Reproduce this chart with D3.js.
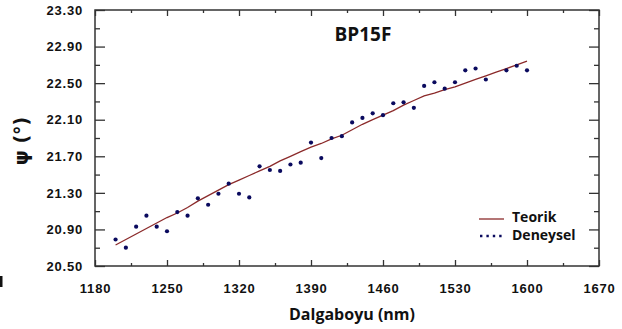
<!DOCTYPE html>
<html><head><meta charset="utf-8">
<script src="https://cdn.jsdelivr.net/npm/d3@7/dist/d3.min.js"></script>
<style>
body{margin:0;background:#fff;}
svg{display:block;}
.tick text{font-family:"Liberation Sans",Arial,sans-serif;font-weight:bold;font-size:13px;letter-spacing:0.8px;fill:#111;}
</style></head>
<body><svg id="c" width="622" height="329"></svg>
<script>
const wavelengthsDeneysel = [1200,1210,1220,1230,1240,1250,1260,1270,1280,1290,1300,1310,1320,1330,1340,1350,1360,1370,1380,1390,1400,1410,1420,1430,1440,1450,1460,1470,1480,1490,1500,1510,1520,1530,1540,1550,1560,1580,1590,1600];
const psiDeneysel = [20.79,20.70,20.93,21.05,20.93,20.88,21.09,21.05,21.24,21.17,21.29,21.40,21.29,21.25,21.59,21.55,21.54,21.61,21.63,21.85,21.68,21.90,21.92,22.07,22.12,22.17,22.15,22.28,22.29,22.23,22.47,22.51,22.44,22.51,22.64,22.66,22.54,22.64,22.69,22.64];
const wavelengthsTeorik = [1200,1210,1220,1230,1240,1250,1260,1270,1280,1290,1300,1310,1320,1330,1340,1350,1360,1370,1380,1390,1400,1410,1420,1430,1440,1450,1460,1470,1480,1490,1500,1510,1520,1530,1540,1550,1560,1570,1580,1590,1600];
const psiTeorik = [20.73,20.79,20.85,20.91,20.97,21.03,21.08,21.14,21.21,21.27,21.33,21.39,21.44,21.49,21.54,21.59,21.65,21.70,21.75,21.80,21.84,21.89,21.93,21.99,22.05,22.10,22.15,22.20,22.26,22.31,22.36,22.39,22.43,22.46,22.50,22.54,22.58,22.62,22.66,22.70,22.74];
const xTickLabels = [1180,1250,1320,1390,1460,1530,1600,1670];
const xMinorTicks = [1215,1285,1355,1425,1495,1565,1635];
const yTickLabels = [20.5,20.9,21.3,21.7,22.1,22.5,22.9,23.3];
const yMinorTicks = [20.7,21.1,21.5,21.9,22.3,22.7,23.1];
const title = "BP15F";
const xTitle = "Dalgaboyu (nm)";
const yTitle = "\u03C8 (\u00B0)";
const seriesNames = ["Teorik","Deneysel"];

const svg = d3.select("#c");
const L=95,R=599,T=10,B=266;
const x = d3.scaleLinear().domain([1180,1670]).range([L,R]);
const y = d3.scaleLinear().domain([20.5,23.3]).range([B,T]);
const axisColor="#333";

function styleAxis(g){g.select(".domain").remove();g.selectAll(".tick line").attr("stroke",axisColor).attr("stroke-width",1.3);}

svg.append("g").attr("transform",`translate(${L},0)`).call(d3.axisLeft(y).tickValues(yTickLabels).tickSize(-10).tickPadding(12).tickFormat(d3.format(".2f"))).call(styleAxis);
svg.append("g").attr("transform",`translate(${L},0)`).call(d3.axisLeft(y).tickValues(yMinorTicks).tickSize(-5).tickFormat("")).call(styleAxis);
svg.append("g").attr("transform",`translate(${R},0)`).call(d3.axisRight(y).tickValues(yTickLabels).tickSize(-10).tickFormat("")).call(styleAxis);
svg.append("g").attr("transform",`translate(${R},0)`).call(d3.axisRight(y).tickValues(yMinorTicks).tickSize(-5).tickFormat("")).call(styleAxis);
svg.append("g").attr("transform",`translate(0,${B})`).call(d3.axisBottom(x).tickValues(xTickLabels).tickSize(-6).tickPadding(18).tickFormat(d3.format("d"))).call(styleAxis);
svg.append("g").attr("transform",`translate(0,${B})`).call(d3.axisBottom(x).tickValues(xMinorTicks).tickSize(-3).tickFormat("")).call(styleAxis);
svg.append("g").attr("transform",`translate(0,${T})`).call(d3.axisTop(x).tickValues(xTickLabels).tickSize(-6).tickFormat("")).call(styleAxis);
svg.append("g").attr("transform",`translate(0,${T})`).call(d3.axisTop(x).tickValues(xMinorTicks).tickSize(-3).tickFormat("")).call(styleAxis);

svg.append("rect").attr("x",L).attr("y",T).attr("width",R-L).attr("height",B-T).attr("fill","none").attr("stroke",axisColor).attr("stroke-width",1.5);

const line = d3.line().x((d,i)=>x(wavelengthsTeorik[i])).y(d=>y(d));
svg.append("path").datum(psiTeorik).attr("d",line).attr("fill","none").attr("stroke","#8b2a2a").attr("stroke-width",1.3);

svg.append("g").selectAll("circle").data(psiDeneysel).join("circle")
  .attr("cx",(d,i)=>x(wavelengthsDeneysel[i])).attr("cy",d=>y(d)).attr("r",2.1).attr("fill","#0a0a5e");

svg.append("text").attr("x",363).attr("y",41).attr("text-anchor","middle")
  .attr("font-family","'Open Sans',sans-serif").attr("font-weight","bold").attr("font-size",19).attr("fill","#111").text(title);

svg.append("text").attr("x",352).attr("y",320).attr("text-anchor","middle")
  .attr("font-family","'Open Sans',sans-serif").attr("font-weight","bold").attr("font-size",16).attr("fill","#111").text(xTitle);
svg.append("text").attr("transform","translate(28,141) rotate(-90)").attr("text-anchor","middle")
  .attr("font-family","'DejaVu Sans',sans-serif").attr("font-weight","bold").attr("font-size",19).attr("fill","#111").text(yTitle);

svg.append("rect").attr("x",0).attr("y",276).attr("width",2.5).attr("height",11).attr("fill","#111");

const lg = svg.append("g");
lg.append("line").attr("x1",479).attr("x2",504).attr("y1",219).attr("y2",219).attr("stroke","#8b2a2a").attr("stroke-width",1.3);
lg.append("line").attr("x1",480).attr("x2",504).attr("y1",236).attr("y2",236).attr("stroke","#0a0a5e").attr("stroke-width",2.4).attr("stroke-dasharray","2.4,4");
lg.selectAll("text").data(seriesNames).join("text").attr("x",512).attr("y",(d,i)=>222+i*18)
  .attr("font-family","'Open Sans',sans-serif").attr("font-weight","bold").attr("font-size",14).attr("fill","#111").text(d=>d);
</script></body></html>
